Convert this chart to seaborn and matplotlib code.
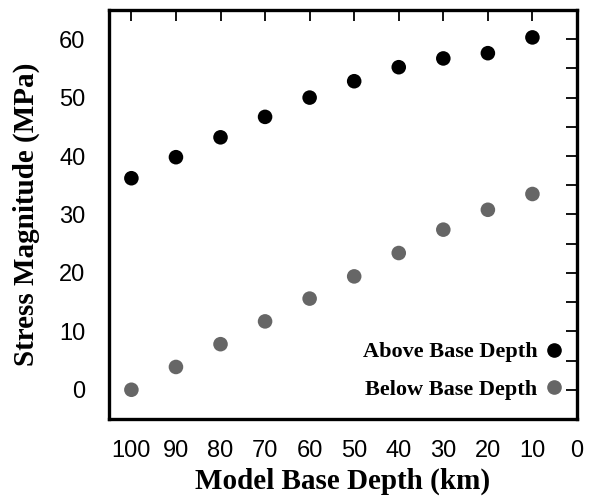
import numpy as np
import pandas as pd
import matplotlib
matplotlib.use("Agg")
import matplotlib.pyplot as plt
import seaborn as sns
from matplotlib.ticker import MultipleLocator

# ── Data ─────────────────────────────────────────────────────────────────────
base_depth = [100, 90, 80, 70, 60, 50, 40, 30, 20, 10]
stress_above = [36.2, 39.8, 43.2, 46.7, 50.0, 52.8, 55.2, 56.7, 57.6, 60.3]
stress_below = [0.0, 3.9, 7.8, 11.7, 15.6, 19.4, 23.4, 27.4, 30.8, 33.5]
series_names = ["Above Base Depth", "Below Base Depth"]
series_colors = ["#000000", "#666666"]

df = pd.concat([
    pd.DataFrame({"depth": base_depth, "stress": stress_above, "series": series_names[0]}),
    pd.DataFrame({"depth": base_depth, "stress": stress_below, "series": series_names[1]}),
])

sns.set_style("white")
plt.rcParams["font.family"] = ["Liberation Sans", "DejaVu Sans"]
plt.rcParams["text.color"] = "black"
plt.rcParams["xtick.color"] = "black"
plt.rcParams["ytick.color"] = "black"
plt.rcParams["axes.labelcolor"] = "black"
serif_bold = dict(family="Liberation Serif", fontweight="bold")

fig = plt.figure(figsize=(5.93, 4.97), dpi=100)
ax = fig.add_axes([0.184, 0.157, 0.789, 0.823])

sns.scatterplot(data=df, x="depth", y="stress", hue="series",
                palette=dict(zip(series_names, series_colors)),
                s=110, linewidth=0, ax=ax, legend=False)

ax.set_xlim(105, 0)
ax.set_ylim(-5, 65)
ax.xaxis.set_major_locator(MultipleLocator(10))
ax.yaxis.set_major_locator(MultipleLocator(10))
ax.yaxis.set_minor_locator(MultipleLocator(5))

ax.tick_params(axis="both", which="both", direction="in", width=1.3,
               top=True, right=True, labelsize=17, colors="black")
ax.tick_params(axis="both", which="major", length=8)
ax.tick_params(axis="y", which="minor", length=8)
ax.tick_params(axis="x", pad=15)
ax.tick_params(axis="y", pad=17)

for sp in ax.spines.values():
    sp.set_linewidth(2.4)
    sp.set_color("black")

ax.set_xlabel("Model Base Depth (km)", fontsize=21, labelpad=4.5, **serif_bold)
ax.set_ylabel("Stress Magnitude (MPa)", fontsize=21, labelpad=14, **serif_bold)

# legend: text first, marker on the right
handles = [plt.Line2D([], [], marker="o", linestyle="", color=c, markersize=9.5)
           for c in series_colors]
leg = ax.legend(handles, series_names, loc="lower right", markerfirst=False,
                bbox_to_anchor=(1.013, 0.015),
                frameon=False, handletextpad=0.05, labelspacing=0.75,
                borderaxespad=0.2, handlelength=1.4,
                prop=dict(family="Liberation Serif", weight="bold", size=16))

fig.savefig("out.png", dpi=100)
